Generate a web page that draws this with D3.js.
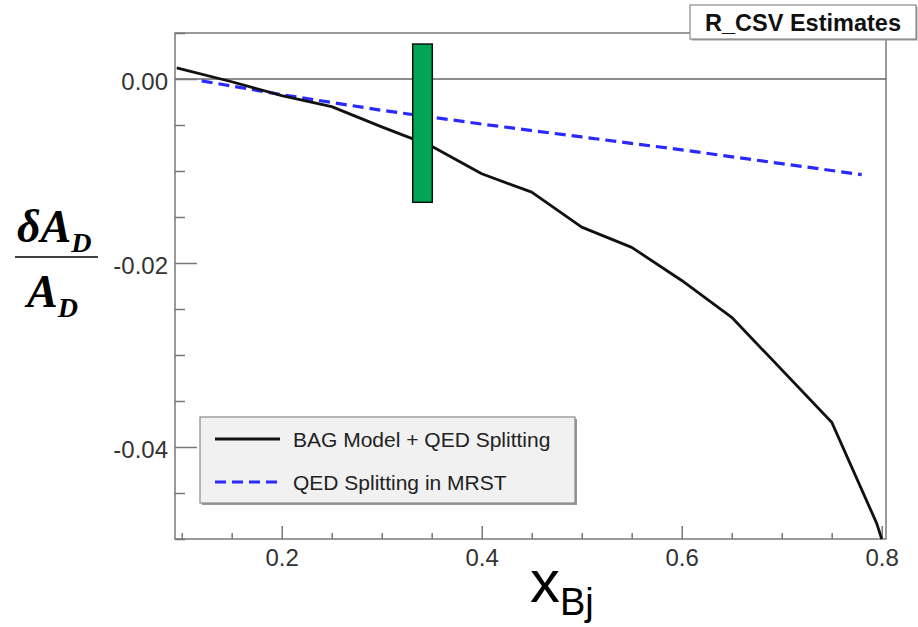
<!DOCTYPE html>
<html>
<head>
<meta charset="utf-8">
<script src="https://cdn.jsdelivr.net/npm/d3@7"></script>
<style>
  body { margin: 0; background: #fff; }
  svg { display: block; }
  .tick text { font-family: "Liberation Sans", Arial, sans-serif; fill: #333; }
</style>
</head>
<body>
<svg width="918" height="627"></svg>
<script>
// BAG model + QED splitting (solid black)
var bagX = [0.095, 0.15, 0.2, 0.25, 0.3, 0.35, 0.4, 0.45, 0.5, 0.55, 0.6, 0.65, 0.75, 0.795, 0.8];
var bagY = [0.0012, -0.0003, -0.0018, -0.0030, -0.0052, -0.0073, -0.0103, -0.0123, -0.0161, -0.0183, -0.0219, -0.0259, -0.0373, -0.0483, -0.0500];

// QED splitting in MRST (blue dashed)
var mrstX = [0.12, 0.2, 0.3, 0.4, 0.5, 0.6, 0.7, 0.78];
var mrstY = [-0.0002, -0.0017, -0.0034, -0.0049, -0.0063, -0.0077, -0.0092, -0.0104];

// green band: x range and y range
var bandX = [0.331, 0.3506];
var bandY = [-0.0134, 0.0038];

var xMajor = [0.2, 0.4, 0.6, 0.8];
var xMinor = [0.1, 0.15, 0.25, 0.3, 0.35, 0.45, 0.5, 0.55, 0.65, 0.7, 0.75];
var yMajor = [0, -0.02, -0.04];
var yMinor = [0.005, -0.005, -0.01, -0.015, -0.025, -0.03, -0.035, -0.045, -0.05];
var legendNames = ["BAG Model + QED Splitting", "QED Splitting in MRST"];
var title = "R_CSV Estimates";

var svg = d3.select("svg");
var plotL = 175, plotR = 886, plotT = 33, plotB = 539;

var x = d3.scaleLinear().domain([0.0933, 0.8043]).range([plotL, plotR]);
var y = d3.scaleLinear().domain([0.005, -0.05]).range([plotT, plotB]);

// plain hyphen for negatives, like the original
var fmtY = function(d) { return d3.format(".2f")(d).replace("\u2212", "-"); };

// frame
svg.append("rect")
    .attr("x", plotL).attr("y", plotT)
    .attr("width", plotR - plotL).attr("height", plotB - plotT)
    .attr("fill", "none").attr("stroke", "#7a7a7a").attr("stroke-width", 1.5);

// zero line
svg.append("line")
    .attr("x1", plotL).attr("x2", plotR)
    .attr("y1", y(0)).attr("y2", y(0))
    .attr("stroke", "#666").attr("stroke-width", 1.5);

// x axis (ticks point inward like ROOT)
var xAxis = svg.append("g")
    .attr("transform", "translate(0," + plotB + ")")
    .call(d3.axisBottom(x).tickValues(xMajor).tickSize(-13).tickPadding(5)
      .tickFormat(d3.format(".1f")));
xAxis.select(".domain").remove();
xAxis.selectAll(".tick line").attr("stroke", "#777").attr("stroke-width", 1.5);
xAxis.selectAll(".tick text").attr("font-size", 24).attr("dy", "0.9em");

var xAxisMinor = svg.append("g")
    .attr("transform", "translate(0," + plotB + ")")
    .call(d3.axisBottom(x).tickValues(xMinor).tickSize(-6).tickFormat(""));
xAxisMinor.select(".domain").remove();
xAxisMinor.selectAll(".tick line").attr("stroke", "#777").attr("stroke-width", 1.5);

// y axis
var yAxis = svg.append("g")
    .attr("transform", "translate(" + plotL + ",0)")
    .call(d3.axisLeft(y).tickValues(yMajor).tickSize(-22).tickPadding(7)
      .tickFormat(fmtY));
yAxis.select(".domain").remove();
yAxis.selectAll(".tick line").attr("stroke", "#777").attr("stroke-width", 1.5);
yAxis.selectAll(".tick text").attr("font-size", 24).attr("dy", "0.42em");

var yAxisMinor = svg.append("g")
    .attr("transform", "translate(" + plotL + ",0)")
    .call(d3.axisLeft(y).tickValues(yMinor).tickSize(-10).tickFormat(""));
yAxisMinor.select(".domain").remove();
yAxisMinor.selectAll(".tick line").attr("stroke", "#777").attr("stroke-width", 1.5);

// curves
var line = d3.line()
    .x(function(d) { return x(d[0]); })
    .y(function(d) { return y(d[1]); });

svg.append("path")
    .datum(d3.zip(mrstX, mrstY))
    .attr("d", line)
    .attr("fill", "none")
    .attr("stroke", "#2a2aff")
    .attr("stroke-width", 3.2)
    .attr("stroke-dasharray", "11,6");

svg.append("path")
    .datum(d3.zip(bagX, bagY))
    .attr("d", line)
    .attr("fill", "none")
    .attr("stroke", "#111")
    .attr("stroke-width", 2.8)
    .attr("stroke-linejoin", "round");

// green band
svg.append("rect")
    .attr("x", x(bandX[0])).attr("y", y(bandY[1]))
    .attr("width", x(bandX[1]) - x(bandX[0]))
    .attr("height", y(bandY[0]) - y(bandY[1]))
    .attr("fill", "#00a651")
    .attr("stroke", "#111").attr("stroke-width", 1.5);

// legend
var lg = svg.append("g").attr("transform", "translate(200,417)");
lg.append("rect").attr("x", 2).attr("y", 2).attr("width", 375).attr("height", 86).attr("fill", "#999");
lg.append("rect").attr("width", 375).attr("height", 86)
    .attr("fill", "#f1f1f1").attr("stroke", "#8a8a8a").attr("stroke-width", 1.2);

var legendStyle = [
  {stroke: "#111", dash: null},
  {stroke: "#2a2aff", dash: "11,6"}
];
legendNames.forEach(function(name, i) {
  var row = lg.append("g").attr("transform", "translate(0," + (22 + i * 43) + ")");
  row.append("line")
      .attr("x1", 15).attr("x2", 80)
      .attr("stroke", legendStyle[i].stroke)
      .attr("stroke-width", 3.2)
      .attr("stroke-dasharray", legendStyle[i].dash);
  row.append("text")
      .attr("x", 93).attr("dy", "0.36em")
      .attr("font-family", "Liberation Sans, Arial, sans-serif")
      .attr("font-size", 21)
      .attr("fill", "#222")
      .text(name);
});

// title box
var tb = svg.append("g").attr("transform", "translate(690,5)");
tb.append("rect").attr("x", 1.5).attr("y", 1.5).attr("width", 226).attr("height", 34).attr("fill", "#999");
tb.append("rect").attr("width", 226).attr("height", 34)
    .attr("fill", "#fff").attr("stroke", "#8a8a8a").attr("stroke-width", 1.2);
tb.append("text")
    .attr("x", 113).attr("y", 26)
    .attr("text-anchor", "middle")
    .attr("font-family", "Liberation Sans, Arial, sans-serif")
    .attr("font-weight", "bold")
    .attr("font-size", 23.5)
    .attr("fill", "#111")
    .text(title);

// y axis label: deltaA_D / A_D
var yl = svg.append("g")
    .attr("font-family", "Liberation Serif, Times New Roman, serif")
    .attr("font-style", "italic").attr("font-weight", "bold")
    .attr("fill", "#000");
var num = yl.append("text").attr("x", 17).attr("y", 242).attr("font-size", 46);
num.append("tspan").text("\u03B4A");
num.append("tspan").attr("font-size", 28).attr("dy", 10).text("D");
yl.append("line").attr("x1", 15).attr("x2", 98).attr("y1", 257).attr("y2", 257)
    .attr("stroke", "#000").attr("stroke-width", 1.5);
var den = yl.append("text").attr("x", 27).attr("y", 307).attr("font-size", 46);
den.append("tspan").text("A");
den.append("tspan").attr("font-size", 28).attr("dy", 10).text("D");

// x axis label
var xl = svg.append("text")
    .attr("x", 530).attr("y", 602)
    .attr("font-family", "Liberation Sans, Arial, sans-serif")
    .attr("fill", "#000");
xl.append("tspan").attr("font-size", 60).text("x");
xl.append("tspan").attr("font-size", 38).attr("dy", 13).text("Bj");
</script>
</body>
</html>
